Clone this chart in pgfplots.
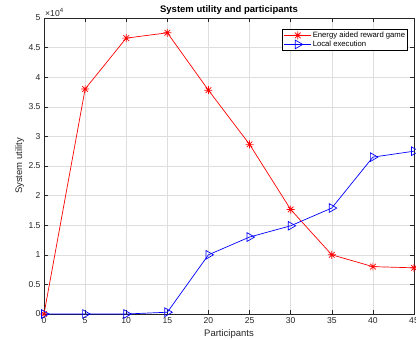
\documentclass[border=0pt]{standalone}
\usepackage{fontspec}
\setmainfont{Liberation Sans}
\usepackage{pgfplots}
\pgfplotsset{compat=1.18}
\definecolor{axgray}{gray}{0.15}
\definecolor{gridgray}{gray}{0.87}
\pgfdeclareplotmark{mstar}{%
 \pgfpathmoveto{\pgfqpoint{-\pgfplotmarksize}{0pt}}\pgfpathlineto{\pgfqpoint{\pgfplotmarksize}{0pt}}%
 \pgfpathmoveto{\pgfqpoint{0pt}{-\pgfplotmarksize}}\pgfpathlineto{\pgfqpoint{0pt}{\pgfplotmarksize}}%
 \pgfpathmoveto{\pgfqpoint{-0.707\pgfplotmarksize}{-0.707\pgfplotmarksize}}\pgfpathlineto{\pgfqpoint{0.707\pgfplotmarksize}{0.707\pgfplotmarksize}}%
 \pgfpathmoveto{\pgfqpoint{-0.707\pgfplotmarksize}{0.707\pgfplotmarksize}}\pgfpathlineto{\pgfqpoint{0.707\pgfplotmarksize}{-0.707\pgfplotmarksize}}%
 \pgfusepathqstroke}
\begin{document}
\begin{tikzpicture}
\begin{axis}[
  scale only axis,
  width=370pt, height=296pt,
  xmin=0, xmax=45, ymin=0, ymax=50000,
  xtick={0,5,...,45},
  ytick={0,5000,...,50000},
  scaled y ticks=manual:{×10\textsuperscript{4}}{\pgfmathparse{#1/10000}},
  every y tick scale label/.style={at={(axis description cs:0,1)}, anchor=south west, inner sep=1pt, font=\fontsize{8.6}{10}\selectfont, text=axgray},
  /pgf/number format/assume math mode=true,
  tick label style={font=\fontsize{8.6}{10}\selectfont, text=axgray},
  tick align=inside,
  major tick length=4pt,
  every tick/.style={axgray, line width=0.5pt},
  axis line style={axgray, line width=0.6pt},
  grid=major,
  major grid style={gridgray, line width=0.5pt},
  every axis title shift=0pt,
  title={System utility and participants},
  title style={at={(axis description cs:0.5,1.027)}, anchor=center, font=\fontsize{9.5}{11}\selectfont\bfseries},
  xlabel={Participants},
  ylabel={System utility},
  xlabel style={at={(axis description cs:0.5,-0.068)}, anchor=center, font=\fontsize{9.5}{11}\selectfont, text=axgray},
  ylabel style={at={(axis description cs:-0.066,0.5)}, rotate=0, anchor=center, font=\fontsize{9.5}{11}\selectfont, text=axgray},
  legend style={at={(rel axis cs:0.9838,0.9628)}, anchor=north east, draw=black, line width=0.6pt,
    font=\fontsize{7.7}{9.3}\selectfont, inner sep=1.5pt, row sep=0pt,
    nodes={inner sep=1pt}, cells={anchor=west}},
  legend image code/.code={\draw[mark repeat=2,mark phase=2, line width=1pt] plot coordinates {(0pt,0pt)(13.5pt,0pt)(27pt,0pt)};},
]
\addplot[red, line width=0.7pt, mark=mstar, mark size=4pt, mark options={line width=0.7pt}]
 coordinates {(0,0) (5,38000) (10,46600) (15,47500) (20,37800) (25,28650) (30,17650) (35,10000) (40,8000) (45,7800)};
\addlegendentry{Energy aided reward game}
\addplot[blue, line width=0.7pt, mark=triangle, mark size=5pt, mark options={rotate=-90, line width=0.7pt, fill=none}]
 coordinates {(0,0) (5,0) (10,0) (15,300) (20,10000) (25,13000) (30,14900) (35,17900) (40,26500) (45,27500)};
\addlegendentry{Local execution}
\end{axis}
\pgfresetboundingbox
\path ([xshift=-44pt,yshift=-25pt]current axis.south west) rectangle ([xshift=2pt,yshift=18pt]current axis.north east);
\end{tikzpicture}
\end{document}
